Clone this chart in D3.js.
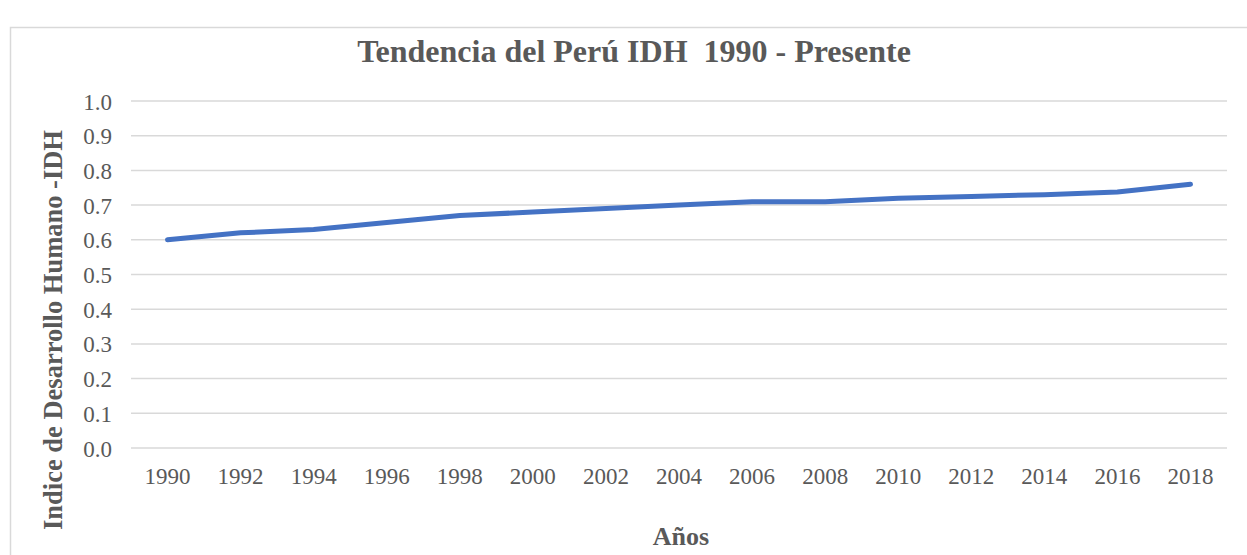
<!DOCTYPE html>
<html>
<head>
<meta charset="utf-8">
<script src="https://cdn.jsdelivr.net/npm/d3@7"></script>
<style>
  body { margin: 0; background: #fff; }
  text { font-family: "Liberation Serif", "Times New Roman", serif; fill: #595959; }
</style>
</head>
<body>
<script>
const years = ["1990","1992","1994","1996","1998","2000","2002","2004","2006","2008","2010","2012","2014","2016","2018"];
const idh = [0.60,0.62,0.63,0.65,0.67,0.68,0.69,0.70,0.71,0.71,0.72,0.725,0.73,0.738,0.76];
const yTicks = [0,0.1,0.2,0.3,0.4,0.5,0.6,0.7,0.8,0.9,1.0];

const width = 1247, height = 555;
const plotLeft = 131, plotRight = 1227, plotTop = 101, plotBottom = 448;

const svg = d3.select("body").append("svg")
  .attr("width", width).attr("height", height);

// chart frame
svg.append("rect")
  .attr("x", 10.5).attr("y", 27.5)
  .attr("width", 1260).attr("height", 560)
  .attr("fill", "none").attr("stroke", "#d9d9d9").attr("stroke-width", 1.5);

const x = d3.scaleBand().domain(years).range([plotLeft, plotRight]);
const y = d3.scaleLinear().domain([0, 1]).range([plotBottom, plotTop]);

// gridlines
svg.append("g").selectAll("line")
  .data(yTicks).enter().append("line")
  .attr("x1", plotLeft).attr("x2", plotRight)
  .attr("y1", d => y(d)).attr("y2", d => y(d))
  .attr("stroke", "#d9d9d9").attr("stroke-width", 1.5);

// y axis labels
const yAxis = d3.axisLeft(y).tickValues(yTicks).tickFormat(d3.format(".1f")).tickSize(0).tickPadding(0);
const gy = svg.append("g").attr("transform", "translate(112,0)").call(yAxis);
gy.select(".domain").remove();
gy.selectAll("text").attr("font-size", 23).attr("dy", "0.35em")
  .style("font-family", "Liberation Serif").attr("fill", "#595959");

// x axis labels
const xAxis = d3.axisBottom(x).tickSize(0).tickPadding(0);
const gx = svg.append("g").attr("transform", "translate(0,468)").call(xAxis);
gx.select(".domain").remove();
gx.selectAll("text").attr("font-size", 23).attr("dy", "0.71em")
  .style("font-family", "Liberation Serif").attr("fill", "#595959");

// line
const line = d3.line()
  .x((d, i) => x(years[i]) + x.bandwidth() / 2)
  .y(d => y(d));
svg.append("path")
  .datum(idh)
  .attr("d", line)
  .attr("fill", "none")
  .attr("stroke", "#4472C4")
  .attr("stroke-width", 5)
  .attr("stroke-linecap", "round")
  .attr("stroke-linejoin", "round");

// title
svg.append("text")
  .attr("x", 634).attr("y", 62)
  .attr("text-anchor", "middle")
  .attr("font-size", 32).attr("font-weight", "bold")
  .style("white-space", "pre")
  .text("Tendencia del Perú IDH  1990 - Presente");

// axis titles
svg.append("text")
  .attr("x", 681).attr("y", 545)
  .attr("text-anchor", "middle")
  .attr("font-size", 26).attr("font-weight", "bold")
  .text("Años");

svg.append("text")
  .attr("transform", "translate(62,330) rotate(-90)")
  .attr("text-anchor", "middle")
  .attr("font-size", 26.5).attr("font-weight", "bold")
  .text("Indice de Desarrollo Humano -IDH");
</script>
</body>
</html>
